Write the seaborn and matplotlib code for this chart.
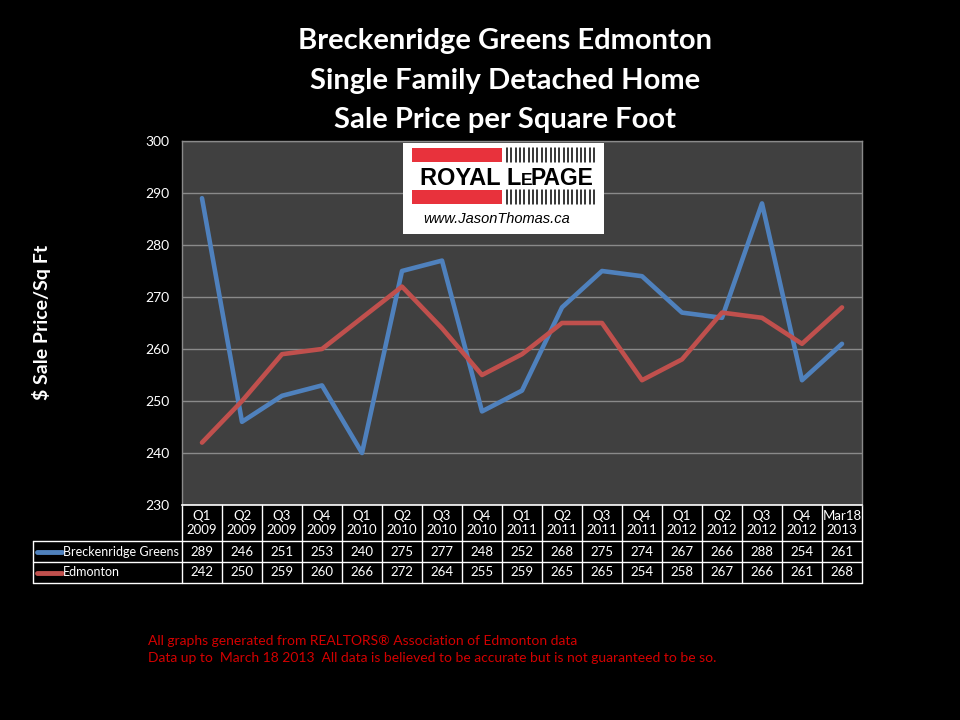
import numpy as np
import pandas as pd
import matplotlib
matplotlib.use("Agg")
import matplotlib.pyplot as plt
import seaborn as sns
from matplotlib.patches import Rectangle
from matplotlib.lines import Line2D
import matplotlib.transforms as mtransforms

# ---------------- data ----------------
quarters = ["Q1\n2009", "Q2\n2009", "Q3\n2009", "Q4\n2009", "Q1\n2010", "Q2\n2010",
            "Q3\n2010", "Q4\n2010", "Q1\n2011", "Q2\n2011", "Q3\n2011", "Q4\n2011",
            "Q1\n2012", "Q2\n2012", "Q3\n2012", "Q4\n2012", "Mar18\n2013"]
breckenridge = [289, 246, 251, 253, 240, 275, 277, 248, 252, 268, 275, 274, 267, 266, 288, 254, 261]
edmonton = [242, 250, 259, 260, 266, 272, 264, 255, 259, 265, 265, 254, 258, 267, 266, 261, 268]
series_names = ["Breckenridge Greens", "Edmonton"]
colors = ["#4F81BD", "#C0504D"]
yticks = [230, 240, 250, 260, 270, 280, 290, 300]

sns.set_theme(style="dark")
FONT = ["Lato", "DejaVu Sans"]
plt.rcParams["font.family"] = FONT
LOGO_FONT = ["Liberation Sans", "DejaVu Sans"]

W, H = 960, 720
fig = plt.figure(figsize=(9.6, 7.2), dpi=100, facecolor="black")

def fx(px):
    return px / W

def fy(py):
    return 1 - py / H

ax_l, ax_r, ax_t, ax_b = 182, 862, 141, 505
ax = fig.add_axes([fx(ax_l), fy(ax_b), fx(ax_r - ax_l), (ax_b - ax_t) / H])
ax.set_facecolor("#404040")

df = pd.DataFrame({
    "x": list(range(len(quarters))) * 2,
    "value": breckenridge + edmonton,
    "series": [series_names[0]] * len(quarters) + [series_names[1]] * len(quarters),
})
sns.lineplot(data=df, x="x", y="value", hue="series", palette=colors, linewidth=3.3,
             ax=ax, legend=False, solid_capstyle="round")

ax.set_xlim(-0.5, len(quarters) - 0.5)
ax.set_ylim(yticks[0], yticks[-1])
ax.set_yticks(yticks)
ax.set_yticklabels([str(t) for t in yticks], color="white", fontsize=10)
ax.set_xticks([])
ax.set_xlabel("")
ax.set_ylabel("")
ax.grid(axis="y", color="#8a8a8a", linewidth=1)
ax.grid(axis="x", visible=False)
ax.tick_params(axis="y", length=0, pad=9)
for s in ["left", "top", "right"]:
    ax.spines[s].set_color("#8a8a8a")
    ax.spines[s].set_linewidth(1)
ax.spines["bottom"].set_color("white")
ax.spines["bottom"].set_linewidth(1.2)

# ---------------- data table ----------------
trans = mtransforms.blended_transform_factory(ax.transData, ax.transAxes)
axh = ax_b - ax_t

def ay(py):
    return (ax_b - py) / axh

hdr_bot, r1_bot, r2_bot = 541, 562, 583
n = len(quarters)
for i, q in enumerate(quarters):
    ax.text(i, ay((ax_b + hdr_bot) / 2), q, transform=trans, ha="center", va="center",
            color="white", fontsize=9.5, linespacing=1.2, clip_on=False)
    ax.text(i, ay((hdr_bot + r1_bot) / 2), str(breckenridge[i]), transform=trans,
            ha="center", va="center", color="white", fontsize=9.5, clip_on=False)
    ax.text(i, ay((r1_bot + r2_bot) / 2), str(edmonton[i]), transform=trans,
            ha="center", va="center", color="white", fontsize=9.5, clip_on=False)

for k in range(n + 1):
    ax.add_line(Line2D([k - 0.5, k - 0.5], [0, ay(r2_bot)], transform=trans,
                       color="white", linewidth=1, clip_on=False))
tbl_left = 33
for py in [hdr_bot, r1_bot, r2_bot]:
    fig.add_artist(Line2D([fx(tbl_left), fx(ax_r)], [fy(py), fy(py)], color="white", linewidth=1))
fig.add_artist(Line2D([fx(tbl_left), fx(tbl_left)], [fy(hdr_bot), fy(r2_bot)], color="white", linewidth=1))

for name, col, (top, bot) in zip(series_names, colors, [(hdr_bot, r1_bot), (r1_bot, r2_bot)]):
    yc = fy((top + bot) / 2)
    fig.add_artist(Line2D([fx(37), fx(62)], [yc, yc], color=col, linewidth=3.5, solid_capstyle="round"))
    fig.text(fx(63), yc, name, color="white", fontsize=9, ha="left", va="center")

# ---------------- titles ----------------
for txt, py in [("Breckenridge Greens Edmonton", 41), ("Single Family Detached Home", 81),
                ("Sale Price per Square Foot", 120)]:
    fig.text(fx(505), fy(py), txt, color="white", fontsize=21, fontweight="bold",
             ha="center", va="center")

fig.text(fx(42), fy(322), "$ Sale Price/Sq Ft", color="white", fontsize=14, fontweight="bold",
         rotation=90, ha="center", va="center")

# ---------------- logo ----------------
fig.add_artist(Rectangle((fx(403), fy(234)), fx(201), 91 / H, facecolor="white",
                         edgecolor="none", zorder=5))
for py0 in [148, 190]:
    fig.add_artist(Rectangle((fx(412), fy(py0 + 14)), fx(90), 14 / H, facecolor="#E8323C",
                             edgecolor="none", zorder=6))
    for xs in np.arange(507, 598, 4.35):
        fig.add_artist(Line2D([fx(xs), fx(xs)], [fy(py0), fy(py0 + 14)], color="black",
                              linewidth=1.1, zorder=6))
fig.text(fx(521), fy(185), "ROYAL L", color="black", fontsize=17, fontweight="bold",
         ha="right", va="baseline", zorder=7, family=LOGO_FONT)
fig.text(fx(521), fy(185), "E", color="black", fontsize=12.5, fontweight="bold",
         ha="left", va="baseline", zorder=7, family=LOGO_FONT)
fig.text(fx(531), fy(185), "PAGE", color="black", fontsize=16.5, fontweight="bold",
         ha="left", va="baseline", zorder=7, family=LOGO_FONT)
fig.text(fx(497), fy(219), "www.JasonThomas.ca", color="black", fontsize=10.5, style="italic",
         ha="center", va="center", zorder=7, family=LOGO_FONT)

# ---------------- footer ----------------
fig.text(fx(148), fy(641), "All graphs generated from REALTORS\u00ae Association of Edmonton data",
         color="#D40000", fontsize=10, ha="left", va="center")
fig.text(fx(148), fy(658), "Data up to  March 18 2013  All data is believed to be accurate but is not guaranteed to be so.",
         color="#D40000", fontsize=10, ha="left", va="center")

fig.savefig("out.png", dpi=100, facecolor="black")
